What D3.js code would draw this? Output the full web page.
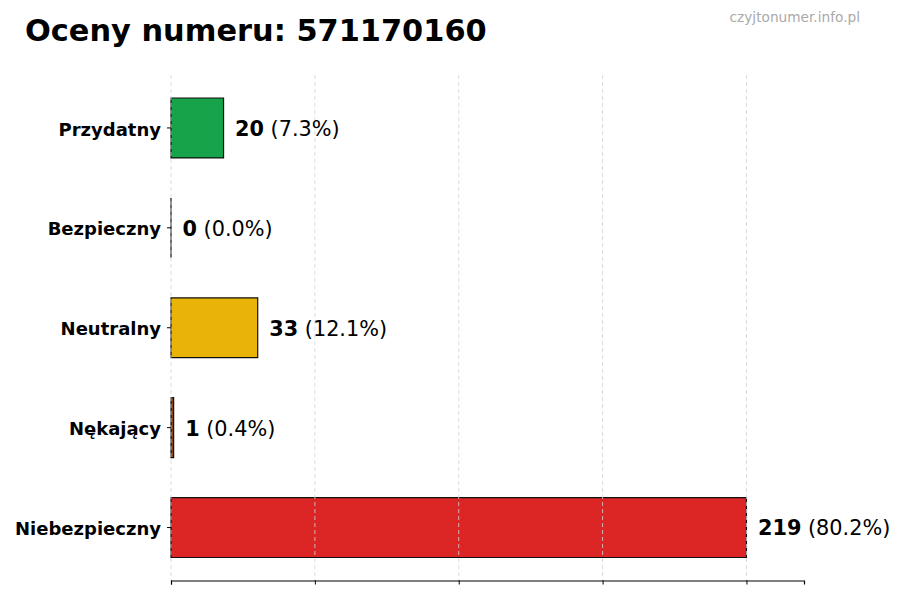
<!DOCTYPE html>
<html>
<head>
<meta charset="utf-8">
<script src="https://cdn.jsdelivr.net/npm/d3@7"></script>
<style>
  body { margin: 0; background: #fff; }
  svg { font-family: "DejaVu Sans", sans-serif; }
</style>
</head>
<body>
<script>
// categories top to bottom
let categories = ["Przydatny", "Bezpieczny", "Neutralny", "Nękający", "Niebezpieczny"];
let counts = [20, 0, 33, 1, 219];
let colors = ["#16a34a", "#2563eb", "#eab308", "#8b4513", "#dc2626"];

let total = d3.sum(counts),
	maxVal = d3.max(counts);

let width = 900, height = 600;

let svg = d3.select("body").append("svg")
	.attr("width", width)
	.attr("height", height);

// scales
let xScale = d3.scaleLinear().domain([0, maxVal * 1.1]).range([171, 804]);
let yScale = d3.scaleBand().domain(categories).range([75, 580.5])
	.paddingInner(0.4).paddingOuter(0.23);

// title + watermark
svg.append("text")
	.attr("x", 25).attr("y", 41)
	.style("font-size", "30.4px").style("font-weight", "bold")
	.text("Oceny numeru: 571170160");

svg.append("text")
	.attr("x", 860).attr("y", 22)
	.attr("text-anchor", "end")
	.style("font-size", "13.7px").style("fill", "#aaa")
	.text("czyjtonumer.info.pl");

// bars (paths, so a zero bar still shows its edge)
svg.selectAll("path.bar").data(categories)
	.enter().append("path")
	.attr("class", "bar")
	.attr("d", (d, i) => {
		let x0 = xScale(0), x1 = xScale(counts[i]),
			y0 = yScale(d), y1 = y0 + yScale.bandwidth();
		return "M" + x0 + "," + y0 + "H" + x1 + "V" + y1 + "H" + x0 + "Z";
	})
	.style("fill", (d, i) => colors[i])
	.style("stroke", "#111")
	.style("stroke-width", 1.2);

// vertical grid, drawn over bars
let ticks = [0, 0.25, 0.5, 0.75, 1].map(f => f * maxVal);
svg.append("g").selectAll("line").data(ticks)
	.enter().append("line")
	.attr("x1", d => xScale(d)).attr("x2", d => xScale(d))
	.attr("y1", 75).attr("y2", 580.5)
	.style("stroke", "#d4d4d4")
	.style("stroke-width", 0.8)
	.style("stroke-dasharray", "4,3");

// x axis: line + ticks, no labels
let xAxis = d3.axisBottom(xScale).tickValues(ticks).tickFormat("").tickSizeOuter(0).tickSize(4);
let xAxisEl = svg.append("g")
	.attr("transform", "translate(0,580.5)")
	.call(xAxis);
xAxisEl.select(".domain").style("stroke", "#000").style("stroke-width", 1.2);
xAxisEl.selectAll(".tick line").style("stroke", "#000").style("stroke-width", 1);

// y axis: tick marks + labels, no line
let yAxis = d3.axisLeft(yScale).tickSize(4).tickPadding(6).tickSizeOuter(0);
let yAxisEl = svg.append("g")
	.attr("transform", "translate(" + xScale(0) + ",0)")
	.call(yAxis);
yAxisEl.select(".domain").remove();
yAxisEl.selectAll(".tick text")
	.attr("dy", "0.42em")
	.style("font-size", "18px").style("font-weight", "bold")
	.style("font-family", "DejaVu Sans").style("fill", "#000");

// value labels
let labels = svg.append("g").selectAll("text").data(categories)
	.enter().append("text")
	.attr("x", (d, i) => xScale(counts[i] + maxVal * 0.02))
	.attr("y", d => yScale(d) + yScale.bandwidth() / 2)
	.attr("dy", "0.38em")
	.style("font-size", "20.8px");
labels.append("tspan")
	.style("font-weight", "bold")
	.text((d, i) => counts[i]);
labels.append("tspan")
	.text((d, i) => " (" + (counts[i] / total * 100).toFixed(1) + "%)");
</script>
</body>
</html>
